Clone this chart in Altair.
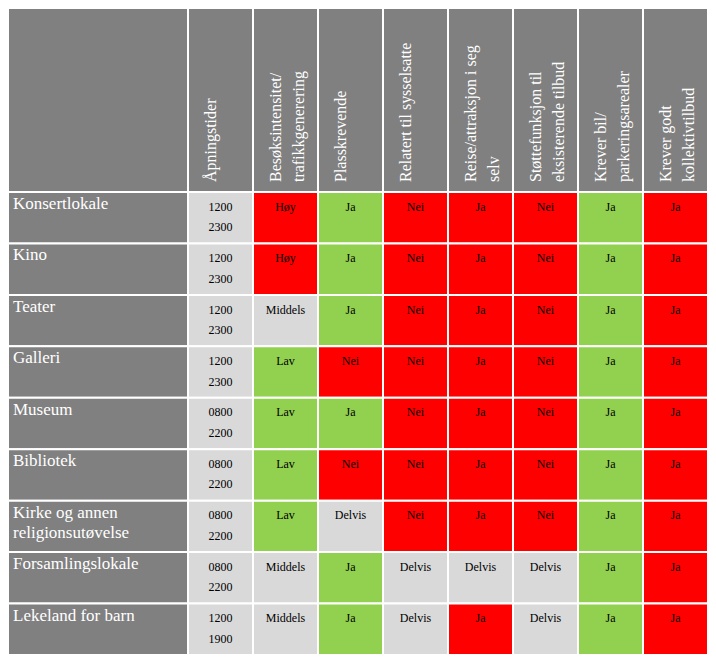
import altair as alt
import pandas as pd

# ---- data ----
rows = ["Konsertlokale", "Kino", "Teater", "Galleri", "Museum", "Bibliotek",
        "Kirke og annen\nreligionsutøvelse", "Forsamlingslokale", "Lekeland for barn"]

headers = ["Åpningstider", "Besøksintensitet/\ntrafikkgenerering", "Plasskrevende",
           "Relatert til sysselsatte", "Reise/attraksjon i seg\nselv",
           "Støttefunksjon til\neksisterende tilbud", "Krever bil/\nparkeringsarealer",
           "Krever godt\nkollektivtilbud"]

open_from = ["1200", "1200", "1200", "1200", "0800", "0800", "0800", "0800", "1200"]
open_to = ["2300", "2300", "2300", "2300", "2200", "2200", "2200", "2200", "1900"]
besok = ["Høy", "Høy", "Middels", "Lav", "Lav", "Lav", "Lav", "Middels", "Middels"]
plass = ["Ja", "Ja", "Ja", "Nei", "Ja", "Nei", "Delvis", "Ja", "Ja"]
relatert = ["Nei", "Nei", "Nei", "Nei", "Nei", "Nei", "Nei", "Delvis", "Delvis"]
reise = ["Ja", "Ja", "Ja", "Ja", "Ja", "Ja", "Ja", "Delvis", "Ja"]
stotte = ["Nei", "Nei", "Nei", "Nei", "Nei", "Nei", "Nei", "Delvis", "Delvis"]
bil = ["Ja", "Ja", "Ja", "Ja", "Ja", "Ja", "Ja", "Ja", "Ja"]
kollektiv = ["Ja", "Ja", "Ja", "Ja", "Ja", "Ja", "Ja", "Ja", "Ja"]

# assessment of each answer per column (gives the cell colour)
rating = [
    {},
    {"Høy": "negativ", "Middels": "nøytral", "Lav": "positiv"},
    {"Ja": "positiv", "Nei": "negativ", "Delvis": "nøytral"},
    {"Nei": "negativ", "Delvis": "nøytral"},
    {"Ja": "negativ", "Delvis": "nøytral"},
    {"Nei": "negativ", "Delvis": "nøytral"},
    {"Ja": "positiv"},
    {"Ja": "negativ"},
]

# ---- style / layout ----
GRAY = "#808080"
LIGHT = "#D9D9D9"
RED = "#FF0000"
GREEN = "#92D050"
FONT = "Liberation Serif"
LABEL_PX, COL_PX, HEAD_PX, ROW_PX = 180, 65, 184, 51.44
NC, NR = len(headers), len(rows)
LABEL_U = LABEL_PX / COL_PX      # label column width in column units
HEAD_U = HEAD_PX / ROW_PX        # header height in row units
W = LABEL_PX + NC * COL_PX
H = HEAD_PX + NR * ROW_PX

cols_values = [
    [f"{a}\n{b}" for a, b in zip(open_from, open_to)],
    besok, plass, relatert, reise, stotte, bil, kollektiv,
]

records = []
for ci, vals in enumerate(cols_values):
    for ri, v in enumerate(vals):
        records.append({"x0": ci, "x1": ci + 1, "xm": ci + 0.5,
                        "y0": ri, "y1": ri + 1, "verdi": v,
                        "klasse": rating[ci].get(v, "nøytral")})
cells = pd.DataFrame(records)

head_df = pd.DataFrame({"x0": range(NC), "x1": [i + 1 for i in range(NC)],
                        "y0": -HEAD_U, "y1": 0.0, "tekst": headers})
row_df = pd.DataFrame({"x0": -LABEL_U, "x1": 0.0, "y0": range(NR),
                       "y1": [j + 1 for j in range(NR)], "tekst": rows})
corner_df = pd.DataFrame({"x0": [-LABEL_U], "x1": [0.0], "y0": [-HEAD_U], "y1": [0.0]})

xs = alt.Scale(domain=[-LABEL_U, NC], nice=False, zero=False)
ys = alt.Scale(domain=[-HEAD_U, NR], nice=False, zero=False, reverse=True)


def X(f):
    return alt.X(f"{f}:Q", scale=xs, axis=None)


def Y(f):
    return alt.Y(f"{f}:Q", scale=ys, axis=None)


rect_style = dict(stroke="white", strokeWidth=2)

corner = alt.Chart(corner_df).mark_rect(color=GRAY, **rect_style).encode(
    x=X("x0"), x2="x1", y=Y("y0"), y2="y1")

head_rect = alt.Chart(head_df).mark_rect(color=GRAY, **rect_style).encode(
    x=X("x0"), x2="x1", y=Y("y0"), y2="y1")
head_text = alt.Chart(head_df).mark_text(
    font=FONT, fontSize=16, color="white", angle=270, align="left",
    baseline="top", lineBreak="\n", lineHeight=23, dy=15, dx=10
).encode(x=X("x0"), y=Y("y1"), text="tekst:N")

row_rect = alt.Chart(row_df).mark_rect(color=GRAY, **rect_style).encode(
    x=X("x0"), x2="x1", y=Y("y0"), y2="y1")
row_text = alt.Chart(row_df).mark_text(
    font=FONT, fontSize=17, color="white", align="left", baseline="top",
    lineBreak="\n", lineHeight=20, dx=5, dy=4
).encode(x=X("x0"), y=Y("y0"), text="tekst:N")

cell_rect = alt.Chart(cells).mark_rect(**rect_style).encode(
    x=X("x0"), x2="x1", y=Y("y0"), y2="y1",
    color=alt.Color("klasse:N", legend=None,
                    scale=alt.Scale(domain=["positiv", "nøytral", "negativ"],
                                    range=[GREEN, LIGHT, RED])))
cell_text = alt.Chart(cells).mark_text(
    font=FONT, fontSize=12, color="black", baseline="top", lineBreak="\n",
    lineHeight=20.5, dy=9.7
).encode(x=X("xm"), y=Y("y0"), text="verdi:N")

chart = alt.layer(
    corner, head_rect, head_text, row_rect, row_text, cell_rect, cell_text
).properties(
    width=W, height=H, padding=0, autosize=alt.AutoSizeParams(type="none")
).configure_view(stroke=None)

chart.save("out.html", embed_options={"renderer": "svg", "actions": False})
